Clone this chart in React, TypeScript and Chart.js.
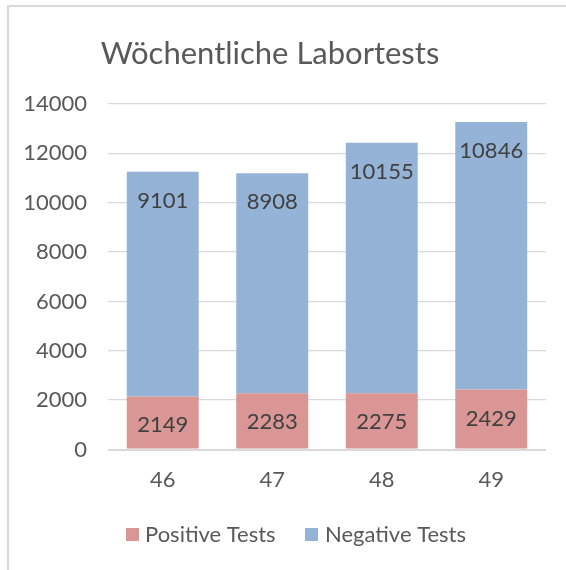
import React, { useEffect, useRef } from "react";
import { Chart, registerables } from "chart.js";

Chart.register(...registerables);

const TITLE = "Wöchentliche Labortests";
const weeks = ["46", "47", "48", "49"];
const positiveTests = [2149, 2283, 2275, 2429];
const negativeTests = [9101, 8908, 10155, 10846];
const seriesNames = ["Positive Tests", "Negative Tests"];
const seriesColors = ["#D99694", "#95B3D7"];
const yTicks = [0, 2000, 4000, 6000, 8000, 10000, 12000, 14000];

const FONT = "Lato, 'Noto Sans', sans-serif";
const TEXT = "#595959";

export default function App() {
  const ref = useRef<HTMLCanvasElement | null>(null);

  useEffect(() => {
    if (!ref.current) return;

    const labelPlugin = {
      id: "insideEndLabels",
      afterDatasetsDraw(chart: any) {
        const ctx = chart.ctx;
        ctx.save();
        ctx.font = `22px ${FONT}`;
        ctx.fillStyle = "#404040";
        ctx.textAlign = "center";
        ctx.textBaseline = "alphabetic";
        chart.data.datasets.forEach((ds: any, di: number) => {
          const meta = chart.getDatasetMeta(di);
          meta.data.forEach((el: any, i: number) => {
            const top = Math.min(el.y, el.base);
            ctx.fillText(String(ds.data[i]), el.x, top + 36);
          });
        });
        ctx.restore();
      },
    };

    const decorPlugin = {
      id: "decor",
      afterDraw(chart: any) {
        const ctx = chart.ctx;
        ctx.save();
        // title
        ctx.font = `31px ${FONT}`;
        ctx.fillStyle = TEXT;
        ctx.textAlign = "center";
        ctx.textBaseline = "alphabetic";
        ctx.fillText(TITLE, 270, 63.5);
        // legend
        const items = [
          { box: 126, text: 145 },
          { box: 305, text: 325 },
        ];
        ctx.font = `22px ${FONT}`;
        ctx.textAlign = "left";
        ctx.textBaseline = "middle";
        chart.data.datasets.forEach((ds: any, i: number) => {
          const it = items[i];
          ctx.fillStyle = ds.backgroundColor;
          ctx.fillRect(it.box, 528, 13, 13);
          ctx.fillStyle = TEXT;
          ctx.fillText(ds.label, it.text, 535);
        });
        ctx.restore();
      },
    };

    const chart = new Chart(ref.current, {
      type: "bar",
      data: {
        labels: weeks,
        datasets: [
          {
            label: seriesNames[0],
            data: positiveTests,
            backgroundColor: seriesColors[0],
            categoryPercentage: 1,
            barPercentage: 0.657,
          },
          {
            label: seriesNames[1],
            data: negativeTests,
            backgroundColor: seriesColors[1],
            categoryPercentage: 1,
            barPercentage: 0.657,
          },
        ],
      },
      options: {
        animation: false,
        responsive: false,
        maintainAspectRatio: false,
        layout: { padding: { top: 104, left: 0, right: 20, bottom: 70.5 } },
        plugins: {
          legend: { display: false },
          title: { display: false },
          tooltip: { enabled: false },
        },
        scales: {
          x: {
            stacked: true,
            grid: { display: false, drawTicks: false },
            border: { display: false },
            ticks: {
              color: TEXT,
              font: { family: FONT, size: 22 },
              padding: 17,
            },
            afterFit(scale: any) {
              scale.height = 50;
            },
          },
          y: {
            stacked: true,
            min: 0,
            max: 14000,
            afterBuildTicks(scale: any) {
              scale.ticks = yTicks.map((v) => ({ value: v }));
            },
            grid: {
              color: "#D9D9D9",
              lineWidth: (c: any) => (c.tick && c.tick.value === 0 ? 2 : 1.3),
              drawTicks: false,
            },
            border: { display: false },
            ticks: {
              color: TEXT,
              font: { family: FONT, size: 22 },
              padding: 21,
              callback: (v: any) => String(v),
            },
            afterFit(scale: any) {
              scale.width = 108;
            },
          },
        },
      },
      plugins: [labelPlugin, decorPlugin],
    });

    return () => chart.destroy();
  }, []);

  return (
    <div
      style={{
        position: "fixed",
        left: 0,
        top: 0,
        width: 566,
        height: 570,
        background: "#fff",
        overflow: "hidden",
      }}
    >
      <div
        style={{
          position: "absolute",
          left: 7,
          top: 5,
          width: 620,
          height: 620,
          border: "2px solid #D9D9D9",
          boxSizing: "border-box",
        }}
      />
      <canvas
        ref={ref}
        width={566}
        height={570}
        style={{ position: "absolute", left: 0, top: 0, width: 566, height: 570 }}
      />
    </div>
  );
}
